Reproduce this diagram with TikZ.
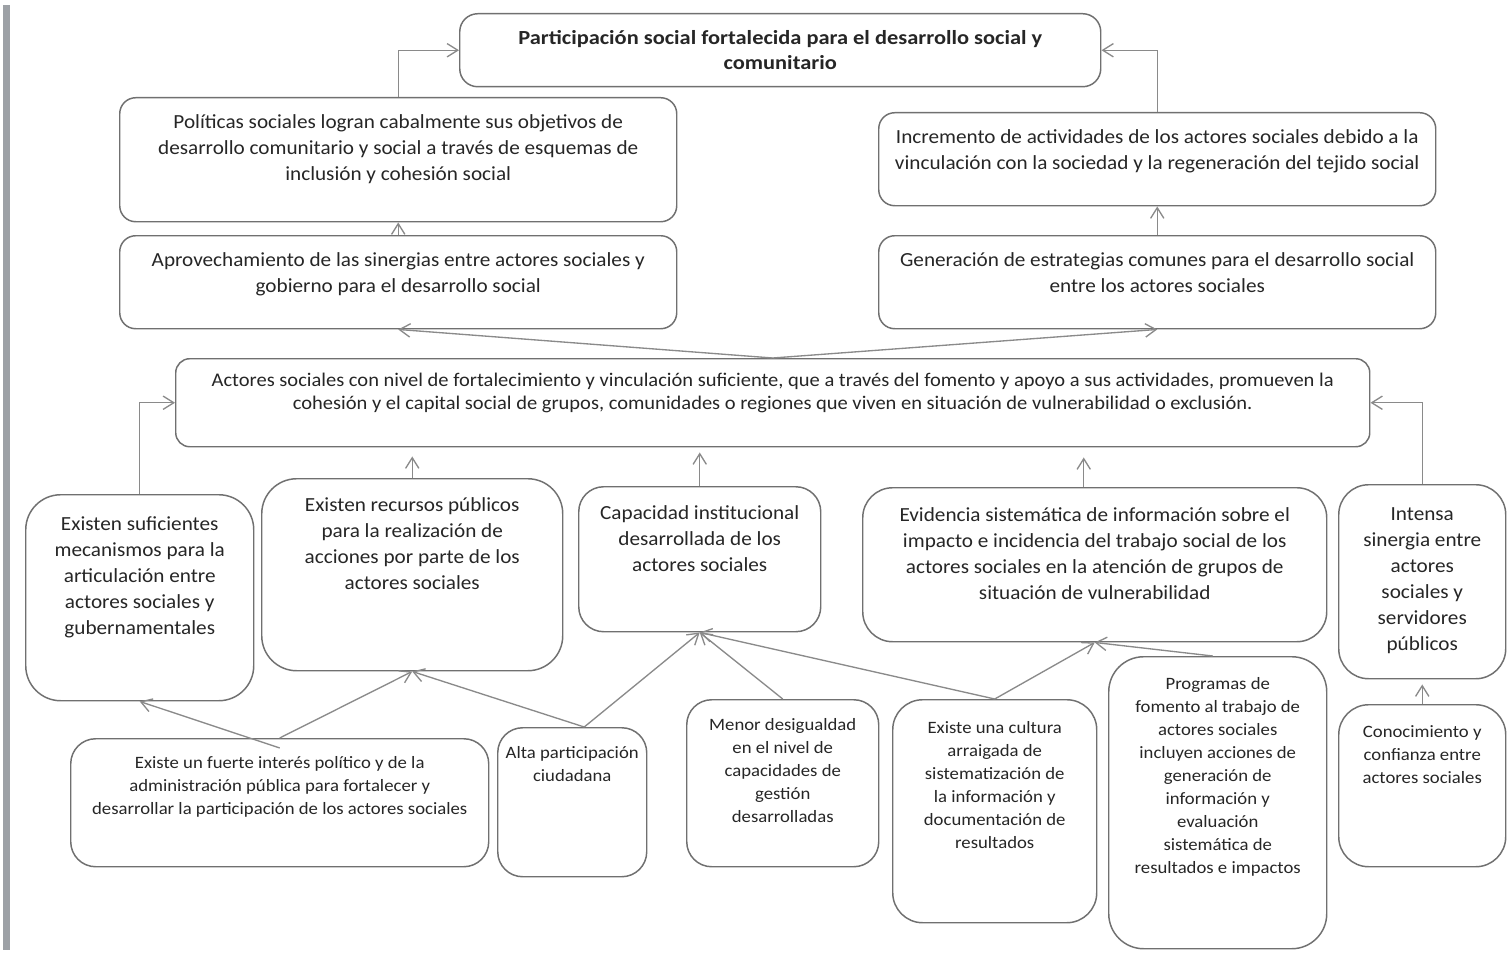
\documentclass[tikz,border=0pt]{standalone}
\usepackage{fontspec}
\setmainfont{Carlito}
\newfontfamily\boxfont[FakeStretch=1.06]{Carlito}
\newfontfamily\actfont[FakeStretch=1.08]{Carlito}
\newfontfamily\goalfont[FakeStretch=1.12]{Carlito}
\usepackage{tikz}
\usetikzlibrary{arrows.meta}

\newdimen\px \px=0.75pt
\definecolor{boxgray}{HTML}{707070}
\definecolor{linkgray}{HTML}{8A8A8A}
\definecolor{txtgray}{HTML}{262626}
\definecolor{bargray}{HTML}{9DA1A6}
% text box: width, height, top padding, text
\newcommand{\boxtxt}[4]{\parbox[c][#2\px][t]{#1\px}{\centering\vspace*{#3\px}\strut#4}}

\begin{document}
\begin{tikzpicture}[x=0.75pt, y=-0.75pt, >={Straight Barb[length=8pt, width=10pt]},
	box/.style={draw=boxgray, line width=1.1pt, rounded corners=#1, inner sep=0pt, anchor=north west, text=txtgray},
	box/.default=16\px,
	bigtext/.style={font=\boxfont\fontsize{15}{19.5}\selectfont},
	smalltext/.style={font=\actfont\fontsize{13}{17.25}\selectfont},
	link/.style={draw=linkgray, line width=1pt, ->}]
	\path[use as bounding box, fill=white] (0,0) rectangle (1507,956);
	\fill[bargray] (3,5) rectangle (10,950);

	% goal and upper effects
	\node[box=18\px, font=\goalfont\fontsize{15}{18.75}\selectfont\bfseries] (top) at (459,13) {\boxtxt{641}{73}{13}{Participación social fortalecida para el desarrollo social y\\comunitario}};
	\node[box, bigtext] (politicas) at (119,97) {\boxtxt{557}{124}{13}{Políticas sociales logran cabalmente sus objetivos de\\desarrollo comunitario y social a través de esquemas de\\inclusión y cohesión social}};
	\node[box, bigtext] (aprov) at (119,235) {\boxtxt{557}{93}{13}{Aprovechamiento de las sinergias entre actores sociales y\\gobierno para el desarrollo social}};
	\node[box, bigtext] (incremento) at (878,112) {\boxtxt{557}{93}{13}{Incremento de actividades de los actores sociales debido a la\\vinculación con la sociedad y la regeneración del tejido social}};
	\node[box, bigtext] (generacion) at (878,235) {\boxtxt{557}{93}{13}{Generación de estrategias comunes para el desarrollo social\\entre los actores sociales}};

	% purpose
	\node[box=14\px, font=\boxfont\fontsize{14.5}{17.25}\selectfont] (central) at (175,358) {\boxtxt{1194}{88}{11.5}{Actores sociales con nivel de fortalecimiento y vinculación suficiente, que a través del fomento y apoyo a sus actividades, promueven la\\cohesión y el capital social de grupos, comunidades o regiones que viven en situación de vulnerabilidad o exclusión.}};

	% components
	\node[box=35\px, bigtext] (suficientes) at (25,494) {\boxtxt{228}{206}{18}{Existen suficientes\\mecanismos para la\\articulación entre\\actores sociales y\\gubernamentales}};
	\node[box=35\px, bigtext] (recursos) at (261,478) {\boxtxt{301}{192}{15}{Existen recursos públicos\\para la realización de\\acciones por parte de los\\actores sociales}};
	\node[box=25\px, bigtext] (capacidad) at (578,486) {\boxtxt{242}{145}{15}{Capacidad institucional\\desarrollada de los\\actores sociales}};
	\node[box=30\px, bigtext] (evidencia) at (862,487) {\boxtxt{464}{154}{16}{Evidencia sistemática de información sobre el\\impacto e incidencia del trabajo social de los\\actores sociales en la atención de grupos de\\situación de vulnerabilidad}};
	\node[box=30\px, bigtext] (intensa) at (1338,484) {\boxtxt{167}{194}{18}{Intensa\\sinergia entre\\actores\\sociales y\\servidores\\públicos}};

	% activities
	\node[box=25\px, smalltext] (existe) at (70,738) {\boxtxt{418}{128}{14}{Existe un fuerte interés político y de la\\administración pública para fortalecer y\\desarrollar la participación de los actores sociales}};
	\node[box=25\px, smalltext] (alta) at (497,727) {\boxtxt{149}{149}{15}{Alta participación\\ciudadana}};
	\node[box=25\px, smalltext] (menor) at (686,699) {\boxtxt{192}{167}{15}{Menor desigualdad\\en el nivel de\\capacidades de\\gestión\\desarrolladas}};
	\node[box=30\px, smalltext] (cultura) at (892,699) {\boxtxt{204}{223}{18}{Existe una cultura\\arraigada de\\sistematización de\\la información y\\documentación de\\resultados}};
	\node[box=35\px, smalltext] (programas) at (1108,656) {\boxtxt{218}{292}{17}{Programas de\\fomento al trabajo de\\actores sociales\\incluyen acciones de\\generación de\\información y\\evaluación\\sistemática de\\resultados e impactos}};
	\node[box=30\px, smalltext] (conocimiento) at (1338,704) {\boxtxt{167}{162}{17}{Conocimiento y\\confianza entre\\actores sociales}};

	% connectors
	\draw[link] (politicas.north) |- (top.west);
	\draw[link] (incremento.north) |- (top.east);
	\draw[link] (aprov.north) -- (politicas.south);
	\draw[link] (generacion.north) -- (incremento.south);
	\draw[link] (central.north) -- (aprov.south);
	\draw[link] (central.north) -- (generacion.south);
	\draw[link] (suficientes.north) |- (central.west);
	\draw[link] (intensa.north) |- (central.east);
	\draw[link, shorten >=9\px] (recursos.north) -- (recursos.north |- central.south);
	\draw[link, shorten >=5\px] (capacidad.north) -- (capacidad.north |- central.south);
	\coordinate (evtop) at ([xshift=-11\px]evidencia.north);
	\draw[link, shorten >=10\px] (evtop) -- (evtop |- central.south);

	\draw[link] ([yshift=-10\px]existe.north) -- (suficientes.south);
	\draw[link] (existe.north) -- (recursos.south);
	\coordinate (altatop) at ([xshift=12\px]alta.north);
	\draw[link] (altatop) -- (recursos.south);
	\draw[link] (altatop) -- (capacidad.south);
	\draw[link] (menor.north) -- (capacidad.south);
	\draw[link] (cultura.north) -- (capacidad.south);
	\draw[link] (cultura.north) -- (evidencia.south);
	\draw[link] ([xshift=-5\px]programas.north) -- (evidencia.south);
	\draw[link, shorten >=5\px] (conocimiento.north) -- (intensa.south);
\end{tikzpicture}
\end{document}
